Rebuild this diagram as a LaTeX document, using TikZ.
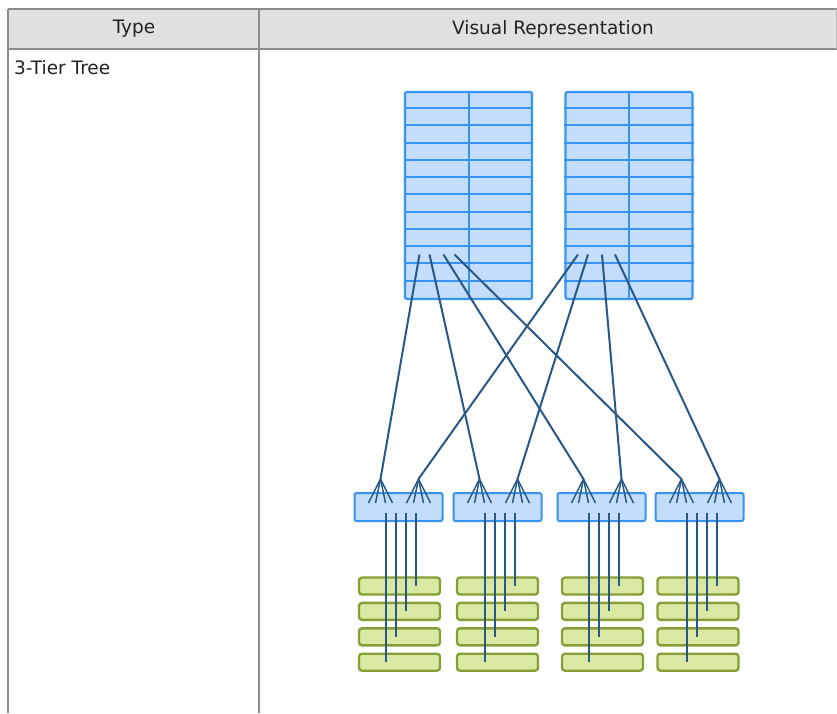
\documentclass[tikz,border=0pt]{standalone}
\usepackage{fontspec}
\setmainfont{DejaVu Sans}
\usepackage{xcolor}
\usetikzlibrary{positioning,calc}
\definecolor{netblue}{HTML}{3794F2}
\definecolor{netfill}{HTML}{C4DDFA}
\definecolor{linkblue}{HTML}{285886}
\definecolor{leafgreen}{HTML}{869E36}
\definecolor{leaffill}{HTML}{D9E8A2}
\definecolor{tablegray}{HTML}{8C8C8C}
\definecolor{headgray}{HTML}{E1E1E1}
\definecolor{textdark}{HTML}{222222}

\begin{document}
\begin{tikzpicture}[x=1pt, y=-1pt,
  node distance=6pt,
  label/.style={font=\fontsize{18.5}{22}\selectfont, text=textdark, inner sep=0pt},
  grid/.style={draw=tablegray, line width=1.6pt},
  spine/.style={draw=netblue, line width=2.2pt, fill=netfill, rounded corners=2pt,
    minimum width=127pt, minimum height=207pt, inner sep=0pt},
  rowline/.style={draw=netblue, line width=2pt},
  switch/.style={draw=netblue, line width=2pt, fill=netfill, rounded corners=2pt,
    minimum width=88pt, minimum height=28pt, inner sep=0pt},
  leaf/.style={draw=leafgreen, line width=2.4pt, fill=leaffill, rounded corners=3pt,
    minimum width=81pt, minimum height=17pt, inner sep=0pt},
  link/.style={draw=linkblue, line width=2pt}
]
\useasboundingbox (0,0) rectangle (837,713);

% table frame
\fill[headgray] (8,9) rectangle (837,49);
\draw[grid] (8,9) -- (837,9);
\draw[grid] (8,49) -- (837,49);
\draw[grid] (8,9) -- (8,713);
\draw[grid] (259,9) -- (259,713);
\draw[draw=tablegray!60, line width=0.8pt] (836.5,9) -- (836.5,49);

\node[label] (type) at (134,29) {Type};
\node[label] (visual) at (553,29) {Visual Representation};
\node[label, anchor=west] (tree) at (14,68) {3-Tier Tree};

% spine tier
\node[spine] (spineL) at (468.5,195.5) {};
\node[spine] (spineR) at (629,195.5) {};
\foreach \s in {spineL,spineR} {
  \foreach \i in {1,...,11}
    \draw[rowline] ($(\s.north west)+(0,\i*17.25)$) -- ($(\s.north east)+(0,\i*17.25)$);
  \draw[rowline] (\s.north) -- (\s.south);
}

% aggregation tier
\node[switch] (sw1) at (398.5,507) {};
\node[switch] (sw2) at (497.5,507) {};
\node[switch] (sw3) at (601.5,507) {};
\node[switch] (sw4) at (699.5,507) {};

% access tier
\foreach \s/\x in {1/399.5,2/497.5,3/602.5,4/698} {
  \node[leaf] (leaf-\s-1) at (\x,586) {};
  \node[leaf, below=of leaf-\s-1] (leaf-\s-2) {};
  \node[leaf, below=of leaf-\s-2] (leaf-\s-3) {};
  \node[leaf, below=of leaf-\s-3] (leaf-\s-4) {};
}

% uplink ports and fan points
\foreach \k/\dl/\dr in {1/-49/-51,2/-39/-41,3/-25/-27,4/-14/-14} {
  \coordinate (up-L-\k) at ($(spineL.center)+(\dl,59)$);
  \coordinate (up-R-\k) at ($(spineR.center)+(\dr,59)$);
  \coordinate (fan-\k-L) at ($(sw\k.center)+(-18,-28)$);
  \coordinate (fan-\k-R) at ($(sw\k.center)+(20,-28)$);
}

% spine to aggregation
\foreach \k in {1,...,4} {
  \draw[link] (up-L-\k) -- (fan-\k-L);
  \draw[link] (up-R-\k) -- (fan-\k-R);
  \foreach \side in {L,R}
    \foreach \f in {-12,-5,5,12}
      \draw[link, line width=1.5pt] (fan-\k-\side) -- ++(\f,24);
}

% aggregation to access
\foreach \s in {1,...,4}
  \foreach \dx/\r in {-13/4,-3/3,7/2,17/1} {
    \coordinate (dn) at ($(sw\s.center)+(\dx,6)$);
    \draw[link] (dn) -- (dn |- leaf-\s-\r.center);
  }
\end{tikzpicture}
\end{document}
